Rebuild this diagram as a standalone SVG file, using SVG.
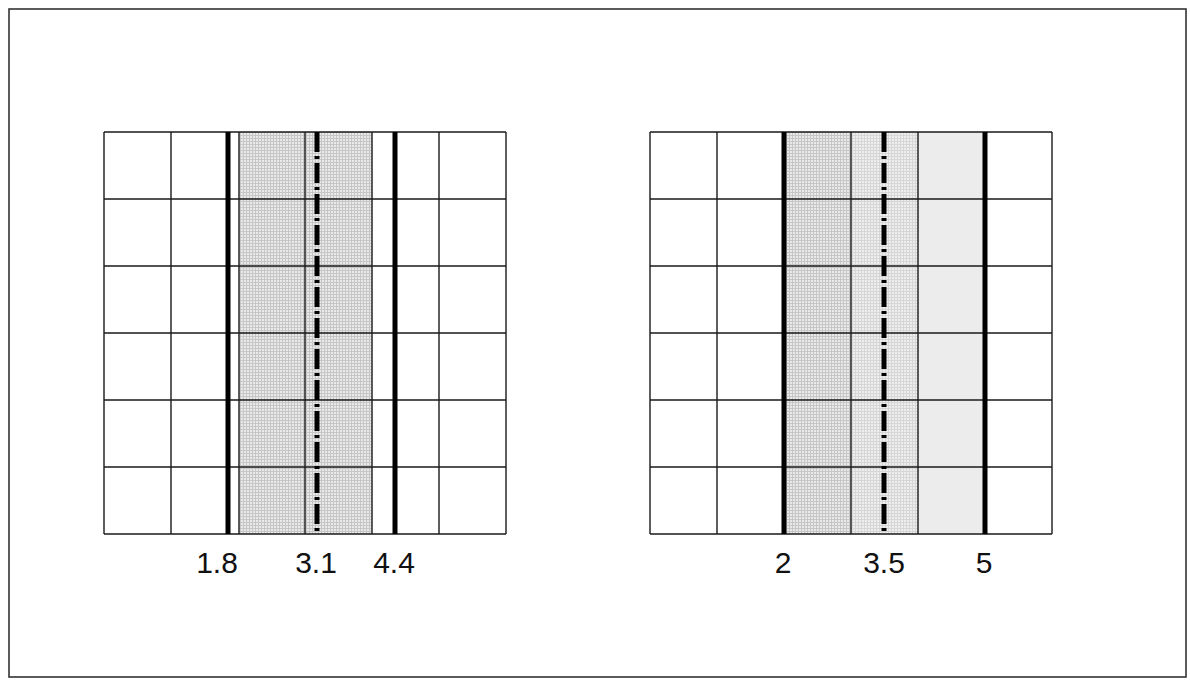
<svg xmlns="http://www.w3.org/2000/svg" width="1190" height="680" viewBox="0 0 1190 680">
  <defs>
    <pattern id="dots" width="3" height="3" patternUnits="userSpaceOnUse">
      <rect width="3" height="3" fill="#e9e9e9"/>
      <path d="M0 0.5H3M0.5 0V3" stroke="#c6c6c6" stroke-width="1"/>
    </pattern>
    <pattern id="dotsLight" width="3" height="3" patternUnits="userSpaceOnUse">
      <rect width="3" height="3" fill="#eeeeee"/>
      <path d="M0 0.5H3M0.5 0V3" stroke="#d6d6d6" stroke-width="1"/>
    </pattern>
  </defs>
  <style>
    .grid { stroke: #1a1a1a; stroke-width: 1.4; fill: none; }
    .thick { stroke: #000; stroke-width: 5; }
    .axis { stroke: #000; stroke-width: 5; stroke-dasharray: 20 4 3 4; }
    .lbl { font-family: "Liberation Sans", Arial, sans-serif; font-size: 30px; fill: #111; text-anchor: middle; }
  </style>
  <rect x="0" y="0" width="1190" height="680" fill="#fff"/>
  <rect id="frame" x="9" y="9" width="1177" height="668" fill="none" stroke="#333" stroke-width="1.6"/>

  <g id="left-diagram">
    <rect x="239" y="132" width="133" height="402" fill="url(#dots)"/>
    <path class="grid" d="M104 132H506M104 199H506M104 266H506M104 333H506M104 400H506M104 467H506M104 534H506M104 132V534M171 132V534M239 132V534M305 132V534M372 132V534M439 132V534M506 132V534"/>
    <line class="thick" x1="228" y1="132" x2="228" y2="534"/>
    <line class="thick" x1="395" y1="132" x2="395" y2="534"/>
    <line class="axis" x1="317" y1="132" x2="317" y2="534"/>
    <text class="lbl" x="217" y="573">1.8</text>
    <text class="lbl" x="316" y="573">3.1</text>
    <text class="lbl" x="394" y="573">4.4</text>
  </g>

  <g id="right-diagram">
    <rect x="784" y="132" width="67" height="402" fill="url(#dots)"/>
    <rect x="851" y="132" width="67" height="402" fill="url(#dotsLight)"/>
    <rect x="918" y="132" width="67" height="402" fill="#ececec"/>
    <path class="grid" d="M650 132H1052M650 199H1052M650 266H1052M650 333H1052M650 400H1052M650 467H1052M650 534H1052M650 132V534M717 132V534M784 132V534M851 132V534M918 132V534M985 132V534M1052 132V534"/>
    <line class="thick" x1="784" y1="132" x2="784" y2="534"/>
    <line class="thick" x1="985" y1="132" x2="985" y2="534"/>
    <line class="axis" x1="884" y1="132" x2="884" y2="534"/>
    <text class="lbl" x="783" y="573">2</text>
    <text class="lbl" x="884" y="573">3.5</text>
    <text class="lbl" x="984" y="573">5</text>
  </g>
</svg>
